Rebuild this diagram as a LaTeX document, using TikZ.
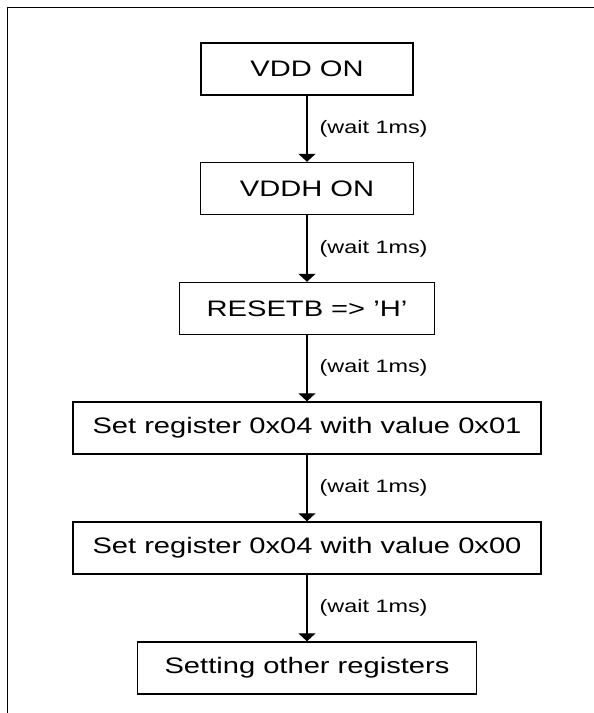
\documentclass[tikz,border=0pt]{standalone}
\usepackage{fontspec}
\setmainfont{Liberation Sans}[FakeStretch=1.3]
\usetikzlibrary{arrows.meta}
\begin{document}
\begin{tikzpicture}[x=1pt,y=-1pt,
  stepbox/.style={draw, line width=1.4pt, inner sep=0pt, minimum height=52pt,
    font=\fontsize{22.4}{26}\selectfont},
  flow/.style={line width=1.3pt, -{Triangle[width=17pt,length=8pt]}, shorten >=0pt},
  waitlbl/.style={anchor=west, inner sep=0pt, font=\fontsize{18}{22}\selectfont}]
\useasboundingbox (0,0) rectangle (594,713);
% frame
\coordinate (fTL) at (7.5,7.5);
\coordinate (fTR) at (594,7.5);
\coordinate (fBL) at (7.5,713);
\draw[line width=1.4pt] (fTR) -- (fTL) -- (fBL);
% boxes
\node[stepbox, minimum width=212pt] (b1) at (307,69) {VDD ON};
\node[stepbox, minimum width=213pt] (b2) at (307,188.5) {VDDH ON};
\node[stepbox, minimum width=255pt] (b3) at (307,308.5) {RESETB => ’H’};
\node[stepbox, minimum width=468pt] (b4) at (307,428) {Set register 0x04 with value 0x01};
\node[stepbox, minimum width=468pt] (b5) at (307,548) {Set register 0x04 with value 0x00};
\node[stepbox, minimum width=339pt] (b6) at (307,668) {Setting other registers};
% connectors
\foreach \a/\b in {b1/b2,b2/b3,b3/b4,b4/b5,b5/b6}{
  \draw[flow] (\a.south) -- (\b.north)
    node[midway, waitlbl, xshift=12pt] {(wait 1ms)};
}
\end{tikzpicture}
\end{document}
